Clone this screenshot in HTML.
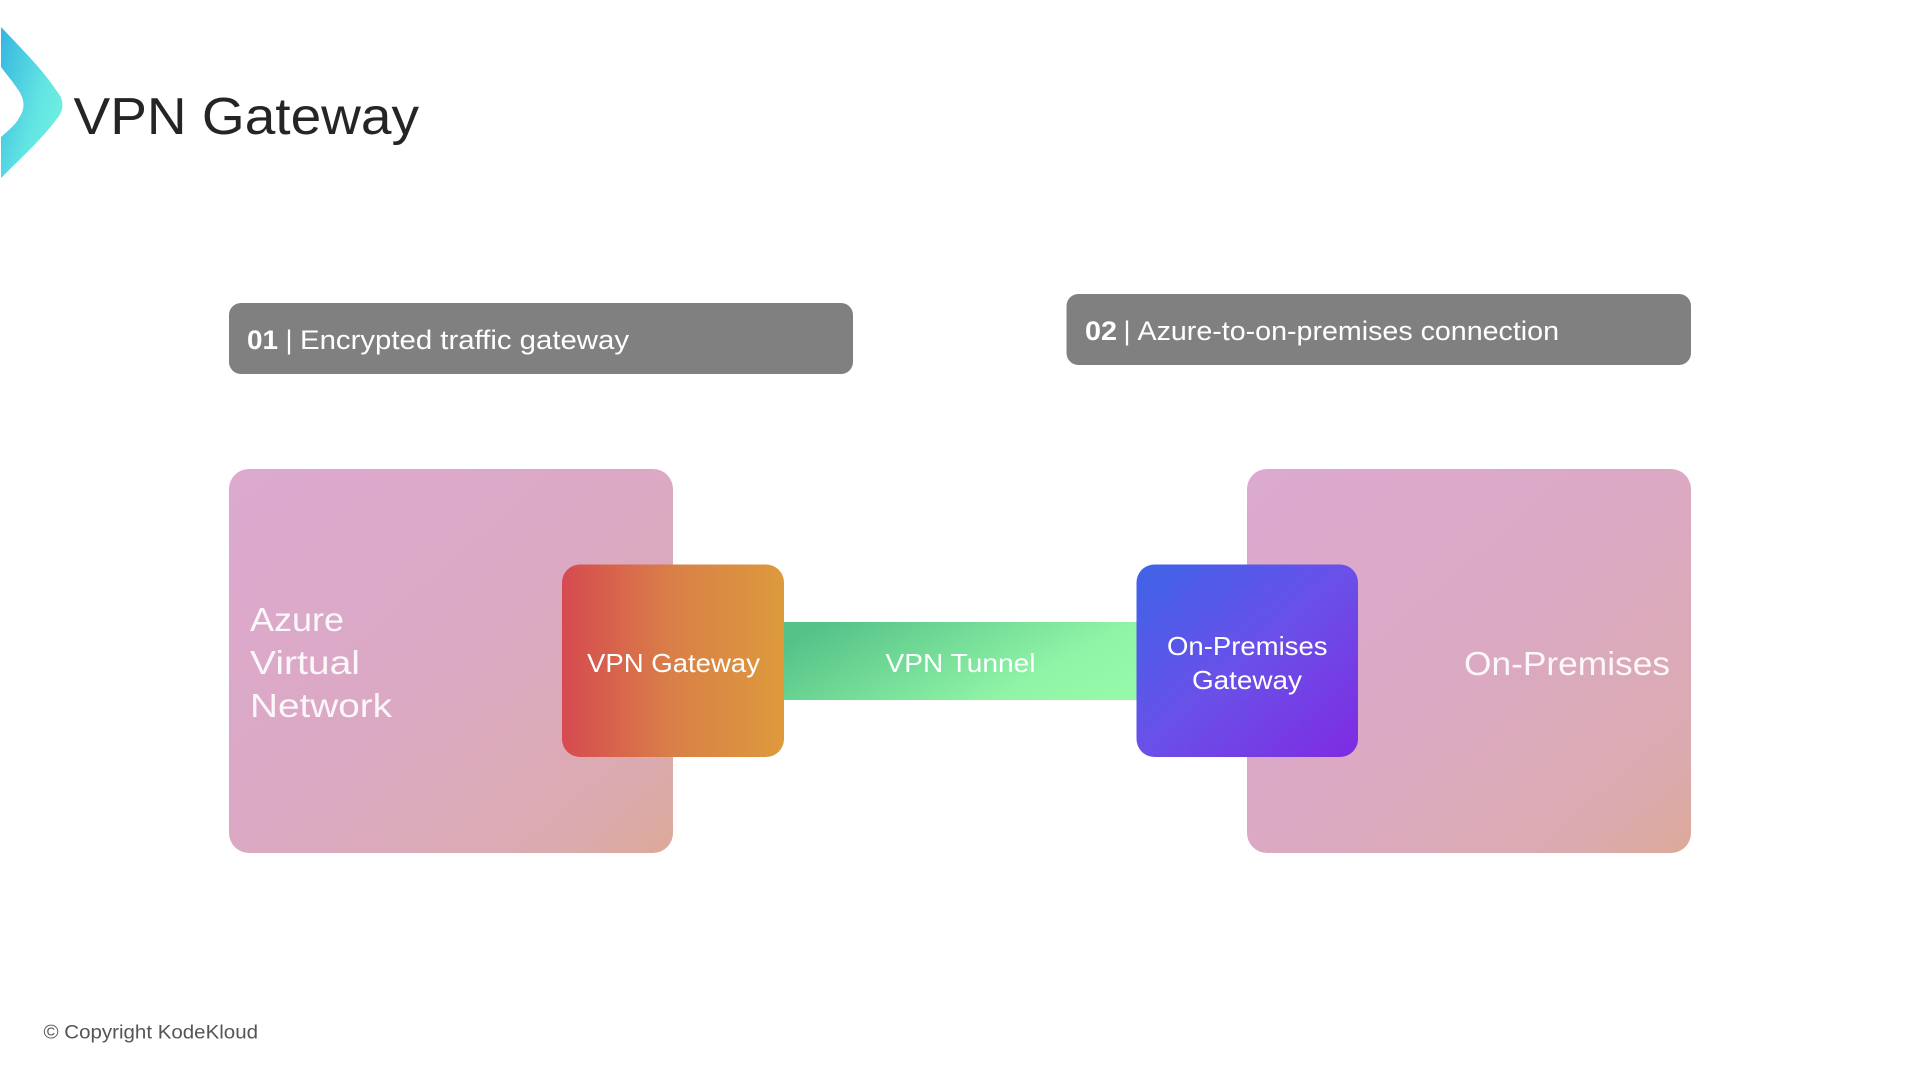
<!DOCTYPE html>
<html lang="en">
<head>
<meta charset="utf-8">
<title>VPN Gateway</title>
<style>
html,body{margin:0;padding:0;background:#fff;width:1920px;height:1080px;overflow:hidden}
svg{display:block}
text{font-family:"Liberation Sans",sans-serif;fill:#fff}
</style>
</head>
<body>
<svg width="1920" height="1080" viewBox="0 0 1920 1080" xmlns="http://www.w3.org/2000/svg">
<defs>
<linearGradient id="logo" x1="0" y1="0.1" x2="1" y2="0.8">
<stop offset="0" stop-color="#38b8e0"/><stop offset="0.6" stop-color="#62e4e2"/><stop offset="1" stop-color="#74f2e0"/>
</linearGradient>
<linearGradient id="pink" x1="0" y1="0" x2="1" y2="1">
<stop offset="0" stop-color="#dca9d0"/><stop offset="0.5" stop-color="#dba9c3"/><stop offset="0.85" stop-color="#dbaab0"/><stop offset="1" stop-color="#dcaa98"/>
</linearGradient>
<linearGradient id="orange" x1="0" y1="0" x2="1" y2="0">
<stop offset="0" stop-color="#d64a50"/><stop offset="0.5" stop-color="#d98048"/><stop offset="1" stop-color="#dd9a3c"/>
</linearGradient>
<linearGradient id="green" x1="0" y1="0.3" x2="1" y2="0.7">
<stop offset="0" stop-color="#55c288"/><stop offset="0.75" stop-color="#90f4a6"/><stop offset="1" stop-color="#95f9aa"/>
</linearGradient>
<linearGradient id="blue" x1="0" y1="0" x2="1" y2="1">
<stop offset="0" stop-color="#3f64e8"/><stop offset="0.5" stop-color="#6a50e8"/><stop offset="1" stop-color="#7f2be2"/>
</linearGradient>
</defs>

<path d="M1 27 C20 47 43 70 56 90 Q69 105 56 120 C41 140 20 159 1 178 L1 137 C9 130 16 124 19 118 Q28 105 19 91 C13 82 7 75 1 67 Z" fill="url(#logo)"/>
<text x="73.5" y="134" font-size="52" textLength="345.5" lengthAdjust="spacingAndGlyphs" style="fill:#252525">VPN Gateway</text>

<rect x="229" y="303" width="624" height="71" rx="12" fill="#808080"/>
<text x="247" y="349" font-size="27" font-weight="700" textLength="31" lengthAdjust="spacingAndGlyphs">01</text>
<text x="285.5" y="349" font-size="27">|</text>
<text x="300" y="349" font-size="27" textLength="329" lengthAdjust="spacingAndGlyphs">Encrypted traffic gateway</text>

<rect x="1066.5" y="294" width="624.5" height="71" rx="12" fill="#808080"/>
<text x="1085" y="340" font-size="27" font-weight="700" textLength="32" lengthAdjust="spacingAndGlyphs">02</text>
<text x="1123.5" y="340" font-size="27">|</text>
<text x="1137.5" y="340" font-size="27" textLength="421.5" lengthAdjust="spacingAndGlyphs">Azure-to-on-premises connection</text>

<rect x="229" y="469" width="444" height="384" rx="20" fill="url(#pink)"/>
<rect x="1247" y="469" width="444" height="384" rx="20" fill="url(#pink)"/>
<rect x="784" y="622" width="353" height="78" fill="url(#green)"/>
<rect x="562" y="564.5" width="222" height="192.5" rx="18" fill="url(#orange)"/>
<rect x="1136.5" y="564.5" width="221.5" height="192.5" rx="18" fill="url(#blue)"/>

<text x="250" y="631" font-size="33" textLength="94" lengthAdjust="spacingAndGlyphs" style="fill-opacity:.9">Azure</text>
<text x="250" y="674" font-size="33" textLength="110" lengthAdjust="spacingAndGlyphs" style="fill-opacity:.9">Virtual</text>
<text x="250" y="717" font-size="33" textLength="142" lengthAdjust="spacingAndGlyphs" style="fill-opacity:.9">Network</text>

<text x="587" y="672" font-size="26" textLength="173" lengthAdjust="spacingAndGlyphs">VPN Gateway</text>
<text x="885.5" y="672" font-size="26" textLength="150" lengthAdjust="spacingAndGlyphs">VPN Tunnel</text>
<text x="1167" y="655" font-size="26" textLength="160.5" lengthAdjust="spacingAndGlyphs">On-Premises</text>
<text x="1192" y="689" font-size="26" textLength="110" lengthAdjust="spacingAndGlyphs">Gateway</text>
<text x="1464" y="675" font-size="33" textLength="206" lengthAdjust="spacingAndGlyphs" style="fill-opacity:.9">On-Premises</text>

<text x="43.5" y="1038.5" font-size="19" textLength="214.5" lengthAdjust="spacingAndGlyphs" style="fill:#555">© Copyright KodeKloud</text>
</svg>
</body>
</html>
